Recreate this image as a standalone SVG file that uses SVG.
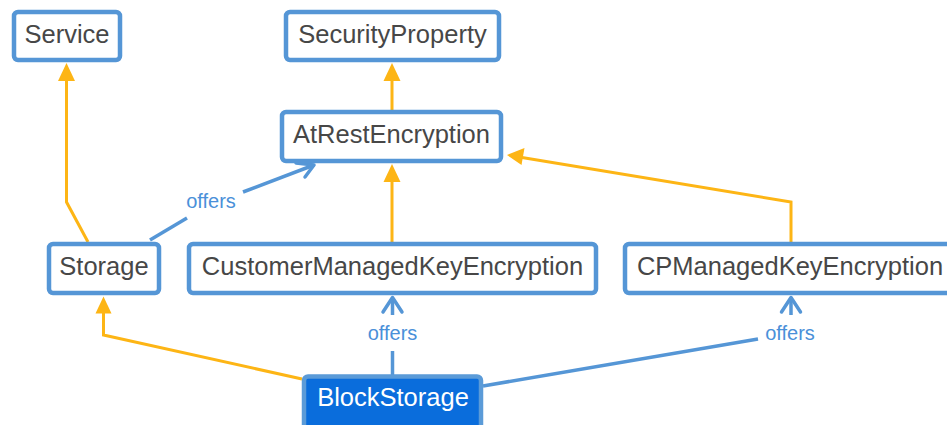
<svg xmlns="http://www.w3.org/2000/svg" width="947" height="425" viewBox="0 0 947 425">
  <defs>
    <style>
      .node rect { fill: #ffffff; stroke: #5596d6; stroke-width: 4.5; }
      .node text { font-family: "Liberation Sans", Arial, sans-serif; font-size: 25.5px; fill: #474747; text-anchor: middle; }
      #BlockStorage rect { fill: #0a6ddc; stroke: #5b9bd8; stroke-width: 4.5; }
      #BlockStorage text { fill: #ffffff; }
      .isa { fill: none; stroke: #fdb515; stroke-width: 3; stroke-linejoin: miter; }
      .isa-head { fill: #fdb515; }
      .rel { fill: none; stroke: #5596d6; stroke-width: 3.5; stroke-linecap: butt; }
      .rel-head { fill: none; stroke: #5596d6; stroke-width: 3.5; stroke-linecap: round; stroke-linejoin: round; }
      .rel-label { font-family: "Liberation Sans", Arial, sans-serif; font-size: 20px; fill: #4a90d9; text-anchor: middle; }
    </style>
  </defs>

  <rect width="947" height="425" fill="#ffffff"/>

  <g id="connectors">
    <!-- Storage is-a Service -->
    <polyline class="isa" points="88,242 66.5,202 66.5,78"/>
    <polygon class="isa-head" points="66.5,63 58,81 75,81"/>
    <!-- AtRestEncryption is-a SecurityProperty -->
    <line class="isa" x1="392" y1="110" x2="392" y2="78"/>
    <polygon class="isa-head" points="392,63 383.5,81 400.5,81"/>
    <!-- CustomerManagedKeyEncryption is-a AtRestEncryption -->
    <line class="isa" x1="392" y1="242" x2="392" y2="178"/>
    <polygon class="isa-head" points="392,164 383.5,182 400.5,182"/>
    <!-- CPManagedKeyEncryption is-a AtRestEncryption -->
    <polyline class="isa" points="791,242 791,202 522,157.5"/>
    <polygon class="isa-head" points="507,155 524.5,148 521.5,165"/>
    <!-- BlockStorage is-a Storage -->
    <polyline class="isa" points="302,379 103.5,335 103.5,311"/>
    <polygon class="isa-head" points="103.5,296.5 95.5,313.5 111.5,313.5"/>

    <!-- Storage offers AtRestEncryption -->
    <line class="rel" x1="150" y1="240" x2="187" y2="218"/>
    <line class="rel" x1="243" y1="192" x2="314" y2="165"/>
    <polyline class="rel-head" points="296,163 314,165 305,177"/>
    <text class="rel-label" x="211" y="208">offers</text>

    <!-- BlockStorage offers CustomerManagedKeyEncryption -->
    <line class="rel" x1="392.5" y1="375" x2="392.5" y2="351"/>
    <line class="rel" x1="392.5" y1="315" x2="392.5" y2="298"/>
    <polyline class="rel-head" points="383,312 392.5,297.5 402,312"/>
    <text class="rel-label" x="392.5" y="340">offers</text>

    <!-- BlockStorage offers CPManagedKeyEncryption -->
    <line class="rel" x1="483" y1="386" x2="758" y2="339"/>
    <line class="rel" x1="791" y1="315" x2="791" y2="298"/>
    <polyline class="rel-head" points="781.5,312 791,297.5 800.5,312"/>
    <text class="rel-label" x="790" y="340">offers</text>
  </g>

  <g id="Service" class="node">
    <rect x="14" y="12" width="106" height="48" rx="4"/>
    <text x="67" y="43">Service</text>
  </g>

  <g id="SecurityProperty" class="node">
    <rect x="286" y="12" width="213" height="48" rx="4"/>
    <text x="392.5" y="43">SecurityProperty</text>
  </g>

  <g id="AtRestEncryption" class="node">
    <rect x="282" y="112" width="219" height="49" rx="4"/>
    <text x="391.5" y="143">AtRestEncryption</text>
  </g>

  <g id="Storage" class="node">
    <rect x="49" y="244" width="110" height="49" rx="4"/>
    <text x="104" y="275">Storage</text>
  </g>

  <g id="CustomerManagedKeyEncryption" class="node">
    <rect x="189" y="244" width="407" height="49" rx="4"/>
    <text x="392.5" y="275">CustomerManagedKeyEncryption</text>
  </g>

  <g id="CPManagedKeyEncryption" class="node">
    <rect x="625" y="244" width="334" height="49" rx="4"/>
    <text x="790" y="275">CPManagedKeyEncryption</text>
  </g>

  <g id="BlockStorage" class="node">
    <rect x="304" y="376.5" width="177" height="52" rx="4"/>
    <text x="393" y="406">BlockStorage</text>
  </g>
</svg>
